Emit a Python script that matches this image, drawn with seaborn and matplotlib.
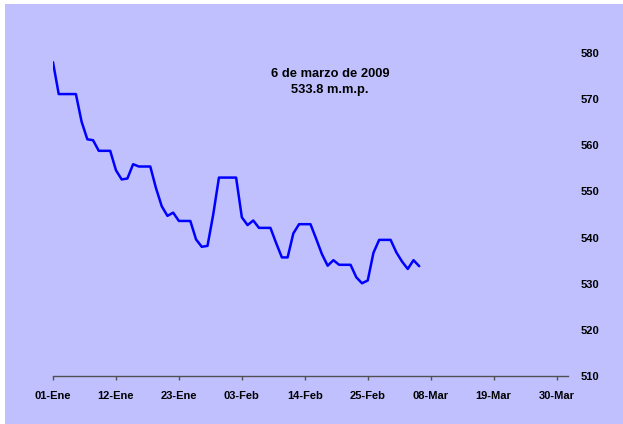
import pandas as pd
import matplotlib
matplotlib.use('Agg')
import matplotlib.pyplot as plt
import seaborn as sns
from matplotlib.patches import Rectangle

# --- data: daily values from 01-Ene-2009 to 06-Mar-2009 ---
start_date = '2009-01-01'
values = [578.0, 571.1, 571.1, 571.1, 571.1, 565.1, 561.3, 561.1, 558.8, 558.8,
          558.8, 554.6, 552.6, 552.8, 555.9, 555.4, 555.4, 555.4, 550.7, 546.8,
          544.7, 545.4, 543.6, 543.6, 543.6, 539.6, 538.0, 538.2, 545.0, 553.0,
          553.0, 553.0, 553.0, 544.4, 542.7, 543.7, 542.1, 542.1, 542.1, 538.8,
          535.7, 535.7, 540.9, 542.9, 542.9, 542.9, 539.7, 536.4, 533.9, 535.1,
          534.1, 534.1, 534.1, 531.4, 530.1, 530.7, 536.7, 539.5, 539.5, 539.5,
          536.8, 534.8, 533.2, 535.1, 533.8]
tick_labels = ['01-Ene', '12-Ene', '23-Ene', '03-Feb', '14-Feb',
               '25-Feb', '08-Mar', '19-Mar', '30-Mar']
y_ticks = [510, 520, 530, 540, 550, 560, 570, 580]
note = '6 de marzo de 2009\n533.8 m.m.p.'

dates = pd.date_range(start_date, periods=len(values), freq='D')
tick_dates = pd.date_range(start_date, periods=len(tick_labels), freq='11D')
df = pd.DataFrame({'fecha': dates, 'valor': values})

sns.set_style('white')
plt.rcParams['font.family'] = ['Liberation Sans', 'DejaVu Sans']

fig = plt.figure(figsize=(6.23, 4.24), dpi=100, facecolor='white')
# lavender background, leaving a thin white strip at top and left
fig.patches.append(Rectangle((5 / 623, 0), 1, 420 / 424, transform=fig.transFigure,
                             facecolor='#C0C0FF', edgecolor='none', zorder=-10))

ax = fig.add_axes([53 / 623, 1 - 376 / 424, 515 / 623, 323 / 424])
ax.set_facecolor('none')

sns.lineplot(data=df, x='fecha', y='valor', color='#0000FF', linewidth=1.8, ax=ax)

ax.set_xlim(dates[0], dates[0] + pd.Timedelta(days=90))
ax.set_ylim(510, 580)
ax.set_xticks(tick_dates)
ax.set_xticklabels(tick_labels, fontsize=8, fontweight='bold', color='black')
ax.yaxis.tick_right()
ax.set_yticks(y_ticks)
ax.set_yticklabels([str(v) for v in y_ticks], fontsize=8, fontweight='bold', color='black')
ax.set_xlabel('')
ax.set_ylabel('')

for side in ['top', 'left', 'right']:
    ax.spines[side].set_visible(False)
ax.spines['bottom'].set_color('#505050')
ax.spines['bottom'].set_linewidth(1.0)
ax.tick_params(axis='x', bottom=True, length=3, width=1, color='#505050',
               pad=8, direction='out')
ax.tick_params(axis='y', left=False, right=False, length=0, pad=9)

ax.text(dates[0] + pd.Timedelta(days=48.4), 573.7, note, ha='center', va='center',
        fontsize=9.3, fontweight='bold', linespacing=1.35, color='black')

fig.savefig('out.png', dpi=100, facecolor=fig.get_facecolor())
